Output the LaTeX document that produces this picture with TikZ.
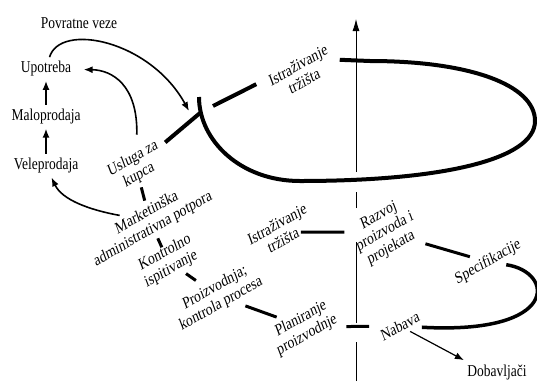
\documentclass[tikz,border=0pt]{standalone}
\usepackage{fontspec}
\setmainfont{Liberation Serif}
\usetikzlibrary{shapes, arrows.meta, positioning}
\tikzstyle{flat} = [align=center, yscale=1.23]
\tikzstyle{stage} = [align=center, yscale=1.23, rotate=25]
\tikzstyle{link} = [line width=3pt, shorten <=3pt, shorten >=3pt]
\tikzstyle{flow} = [->, line width=1.6pt]
\tikzstyle{spiral} = [line width=4pt]

\begin{document}
\begin{tikzpicture}[x=1pt, y=-1pt, >={Latex[length=9pt,width=7pt]}, font=\fontsize{13.5}{14.5}\selectfont]
    \useasboundingbox (0,0) rectangle (537,381);
    % left column
    \node [flat] (povratne) at (79,23) {Povratne veze};
    \node [flat] (upotreba) at (46,69) {Upotreba};
    \node [flat, below=24pt of upotreba] (malo) {Maloprodaja};
    \node [flat, below=25pt of malo] (vele) {Veleprodaja};
    % stages
    \node [stage] (usluga) at (136,167) {Usluga za\\kupca};
    \node [stage] (istr1) at (301,73) {Istraživanje\\tržišta};
    \node [stage] (market) at (150,221) {Marketinška\\administrativna potpora};
    \node [stage] (kontrol) at (168,261) {Kontrolno\\ispitivanje};
    \node [stage] (proizv) at (218,296) {Proizvodnja;\\kontrola procesa};
    \node [stage] (planir) at (304,327) {Planiranje\\proizvodnje};
    \node [stage] (nabava) at (400,326) {Nabava};
    \node [flat] (dobav) at (497,372) {Dobavljači};
    \node [stage] (specif) at (488,262) {Specifikacije};
    \node [stage] (razvoj) at (385,232) {Razvoj\\proizvoda i\\projekata};
    \node [stage] (istr2) at (280,232) {Istraživanje\\tržišta};
    \coordinate (cut1) at (200,113);
    \coordinate (cut2) at (213,106);
    \coordinate (loopend) at (199,97);
    \coordinate (fbtip) at (189,111);
    \coordinate (axbot) at (356,381);
    \coordinate (axtop) at (356,19);
    % axis
    \draw [-{Latex[length=12pt,width=7pt]}, line width=0.8pt, dash pattern=on 39pt off 19pt on 81pt off 34pt on 16pt off 20pt on 200pt] (axbot) -- (axtop);
    % upper loop
    \draw [spiral, shorten <=5pt] (usluga) -- (cut1);
    \draw [spiral] (cut2) -- ([shift={(-13,-7)}]istr1.west);
    \draw [spiral] ([shift={(7,5)}]istr1.east) -- (370,61) .. controls (470,61) and (535,85) .. (535,121)
        .. controls (535,160) and (440,181) .. (300,181) .. controls (240,181) and (199,140) .. (loopend);
    % feedback
    \draw [flow] (upotreba) .. controls (60,22) and (150,40) .. (fbtip);
    \draw [flow, shorten <=9pt, shorten >=9pt] (usluga) .. controls (138,85) and (112,70) .. (upotreba);
    \draw [flow] (market) .. controls (90,210) and (62,200) .. (vele);
    \draw [flow] (vele) -- (malo);
    \draw [flow] (malo) -- (upotreba);
    % lower chain
    \draw [link, shorten <=21pt, shorten >=21pt] (usluga.center) -- (market.center);
    \draw [link, shorten <=19pt, shorten >=15pt] (market.center) -- (kontrol.center);
    \draw [link, shorten <=22pt, shorten >=27pt] (kontrol.center) -- (proizv.center);
    \draw [link] (proizv) -- (planir);
    \draw [link, shorten >=11pt] (planir) -- (nabava);
    \draw [link, shorten <=-16pt] (istr2) -- (razvoj);
    \draw [link] (razvoj) -- (specif);
    \draw [link, line width=3.5pt, shorten <=0pt, shorten >=4pt] (specif) .. controls (555,272) and (560,335) .. (nabava);
    \draw [->, line width=1.2pt] (nabava) -- (dobav.north west);
\end{tikzpicture}
\end{document}
